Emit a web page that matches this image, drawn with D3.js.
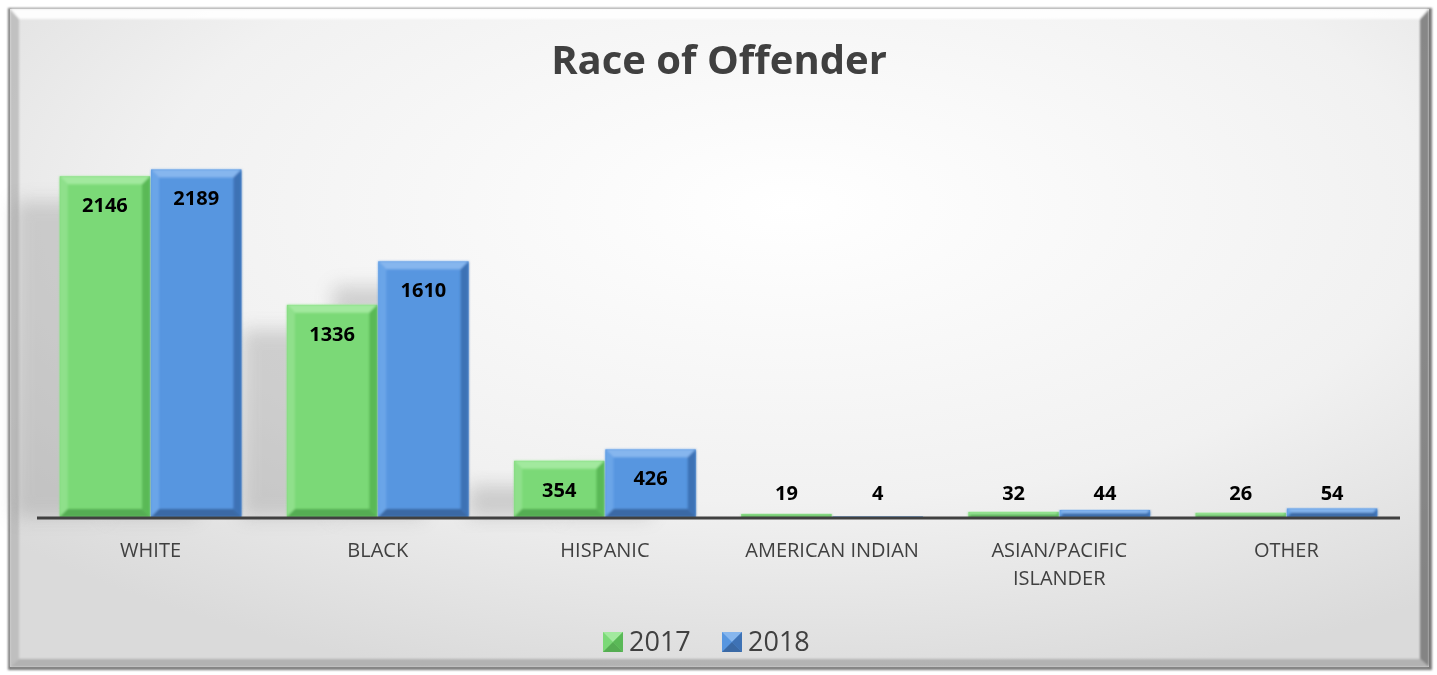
<!DOCTYPE html>
<html lang="en">
<head>
    <meta charset="UTF-8">
    <title>Race of Offender</title>
    <script src="https://cdn.jsdelivr.net/npm/d3@7"></script>
    <style>
        body { margin: 0; background: #fff; }
    </style>
</head>
<body>
<script>
    var categories = ["WHITE", "BLACK", "HISPANIC", "AMERICAN INDIAN", "ASIAN/PACIFIC ISLANDER", "OTHER"];
    var years = ["2017", "2018"];
    var values2017 = [2146, 1336, 354, 19, 32, 26];
    var values2018 = [2189, 1610, 426, 4, 44, 54];

    var w = 1437, h = 675;
    var font = "'Open Sans', 'Noto Sans', sans-serif";

    var svg = d3.select("body").append("svg")
        .attr("width", w)
        .attr("height", h);

    var defs = svg.append("defs");

    // background gradient of the chart area
    var bg = defs.append("radialGradient").attr("id", "bg")
        .attr("cx", "0.55").attr("cy", "0.3").attr("r", "0.75");
    bg.append("stop").attr("offset", "0").attr("stop-color", "#ffffff");
    bg.append("stop").attr("offset", "0.6").attr("stop-color", "#f1f1f1");
    bg.append("stop").attr("offset", "1").attr("stop-color", "#dadada");

    var blur = defs.append("filter").attr("id", "blur")
        .attr("x", "-50%").attr("y", "-50%").attr("width", "200%").attr("height", "200%");
    blur.append("feGaussianBlur").attr("stdDeviation", 9);

    var frameBlur = defs.append("filter").attr("id", "fblur");
    frameBlur.append("feGaussianBlur").attr("stdDeviation", 1.2);

    var bevelBlur = defs.append("filter").attr("id", "bblur");
    bevelBlur.append("feGaussianBlur").attr("stdDeviation", 1);

    // frame
    svg.append("rect")
        .attr("x", 8).attr("y", 8).attr("width", 1424).attr("height", 662)
        .attr("fill", "#7a7a7a").attr("filter", "url(#fblur)");
    svg.append("rect")
        .attr("x", 10).attr("y", 9).attr("width", 1419).attr("height", 658)
        .attr("fill", "url(#bg)");
    // bevel of the frame
    var fb = svg.append("g").attr("filter", "url(#bblur)");
    fb.append("path")
        .attr("d", "M10,9 L1429,9 L1420,19 L19,19 Z")
        .attr("fill", "#ffffff").attr("opacity", 0.9);
    fb.append("path")
        .attr("d", "M10,9 L19,19 L19,659 L10,667 Z")
        .attr("fill", "#b8b8b8").attr("opacity", 0.8);
    fb.append("path")
        .attr("d", "M1429,9 L1420,19 L1420,659 L1429,667 Z")
        .attr("fill", "#6e6e6e").attr("opacity", 0.8);
    fb.append("path")
        .attr("d", "M10,667 L19,659 L1420,659 L1429,667 Z")
        .attr("fill", "#a8a8a8").attr("opacity", 0.8);

    // scales
    var baseY = 517;
    var x0 = d3.scaleBand().domain(categories).range([37, 1400]).paddingInner(0.2).paddingOuter(0.1);
    var x1 = d3.scaleBand().domain(years).range([0, x0.bandwidth()]).paddingInner(0.01);
    var y = d3.scaleLinear().domain([0, 2400]).range([baseY, baseY - 2400 * 0.1588]);

    var colors = {
        "2017": { main: "#7bd977", top: "#a2e99e", left: "#8fe08b", right: "#5ab957", bottom: "#55ad52" },
        "2018": { main: "#5796e0", top: "#86b6ee", left: "#6ba5e8", right: "#3e72b5", bottom: "#3a69a5" }
    };

    var rows = [];
    categories.forEach(function (c, i) {
        rows.push({ cat: c, year: "2017", v: values2017[i] });
        rows.push({ cat: c, year: "2018", v: values2018[i] });
    });

    // soft shadows behind bars
    svg.append("g").selectAll("rect")
        .data(rows)
        .enter()
        .append("rect")
        .attr("x", function (d) { return x0(d.cat) + x1(d.year) - 45; })
        .attr("y", function (d) { return y(d.v) + 25; })
        .attr("width", x1.bandwidth())
        .attr("height", function (d) { return Math.max(0, baseY - y(d.v) - 25); })
        .attr("fill", "#9a9a9a")
        .attr("opacity", 0.4)
        .attr("filter", "url(#blur)");

    // bars with bevel
    var bars = svg.append("g").selectAll("g")
        .data(rows)
        .enter()
        .append("g")
        .attr("transform", function (d) {
            return "translate(" + (x0(d.cat) + x1(d.year)) + "," + y(d.v) + ")";
        });

    bars.each(function (d) {
        var g = d3.select(this);
        var bw = x1.bandwidth();
        var bh = baseY - y(d.v);
        var b = Math.min(8, bh / 2);
        var c = colors[d.year];
        g.append("rect").attr("width", bw).attr("height", bh).attr("fill", c.main);
        var e = g.append("g").attr("filter", "url(#bblur)");
        e.append("path").attr("d", "M0,0 L" + bw + ",0 L" + (bw - b) + "," + b + " L" + b + "," + b + " Z").attr("fill", c.top);
        e.append("path").attr("d", "M0,0 L" + b + "," + b + " L" + b + "," + (bh - b) + " L0," + bh + " Z").attr("fill", c.left);
        e.append("path").attr("d", "M" + bw + ",0 L" + (bw - b) + "," + b + " L" + (bw - b) + "," + (bh - b) + " L" + bw + "," + bh + " Z").attr("fill", c.right);
        e.append("path").attr("d", "M0," + bh + " L" + b + "," + (bh - b) + " L" + (bw - b) + "," + (bh - b) + " L" + bw + "," + bh + " Z").attr("fill", c.bottom);
    });

    // axis line
    svg.append("line")
        .attr("x1", 37).attr("x2", 1400)
        .attr("y1", baseY + 1).attr("y2", baseY + 1)
        .attr("stroke", "#404040").attr("stroke-width", 3);

    // data labels
    svg.append("g").selectAll("text")
        .data(rows)
        .enter()
        .append("text")
        .text(function (d) { return d.v; })
        .attr("x", function (d) { return x0(d.cat) + x1(d.year) + x1.bandwidth() / 2; })
        .attr("y", function (d) {
            return d.v > 200 ? y(d.v) + 36 : baseY - 17;
        })
        .attr("text-anchor", "middle")
        .attr("font-family", font)
        .attr("font-weight", "bold")
        .attr("font-size", "20px")
        .attr("fill", "#000");

    // category labels
    var catLabels = svg.append("g").selectAll("text")
        .data(categories)
        .enter()
        .append("text")
        .attr("x", function (d) { return x0(d) + x0.bandwidth() / 2; })
        .attr("y", 557)
        .attr("text-anchor", "middle")
        .attr("font-family", font)
        .attr("font-size", "20px")
        .attr("fill", "#404040");

    catLabels.each(function (d) {
        var t = d3.select(this);
        var parts = d === "ASIAN/PACIFIC ISLANDER" ? ["ASIAN/PACIFIC", "ISLANDER"] : [d];
        parts.forEach(function (p, i) {
            t.append("tspan")
                .attr("x", x0(d) + x0.bandwidth() / 2)
                .attr("dy", i === 0 ? 0 : 28)
                .text(p);
        });
    });

    // title
    svg.append("text")
        .attr("x", 719).attr("y", 74)
        .attr("text-anchor", "middle")
        .attr("font-family", font)
        .attr("font-weight", "bold")
        .attr("font-size", "40px")
        .attr("fill", "#404040")
        .text("Race of Offender");

    // legend
    var legendX = [603, 722];
    var legend = svg.append("g").selectAll("g")
        .data(years)
        .enter()
        .append("g")
        .attr("transform", function (d, i) { return "translate(" + legendX[i] + ",632)"; });

    legend.each(function (d) {
        var g = d3.select(this);
        var c = colors[d];
        var s = 20;
        g.append("rect").attr("width", s).attr("height", s).attr("fill", c.main);
        g.append("path").attr("d", "M0,0 L" + s + ",0 L" + (s / 2) + "," + (s / 2) + " Z").attr("fill", c.top);
        g.append("path").attr("d", "M" + s + ",0 L" + s + "," + s + " L" + (s / 2) + "," + (s / 2) + " Z").attr("fill", c.right);
        g.append("path").attr("d", "M0," + s + " L" + s + "," + s + " L" + (s / 2) + "," + (s / 2) + " Z").attr("fill", c.bottom);
        g.append("text")
            .attr("x", 26).attr("y", 19)
            .attr("font-family", font)
            .attr("font-size", "27px")
            .attr("fill", "#404040")
            .text(d);
    });
</script>
</body>
</html>
